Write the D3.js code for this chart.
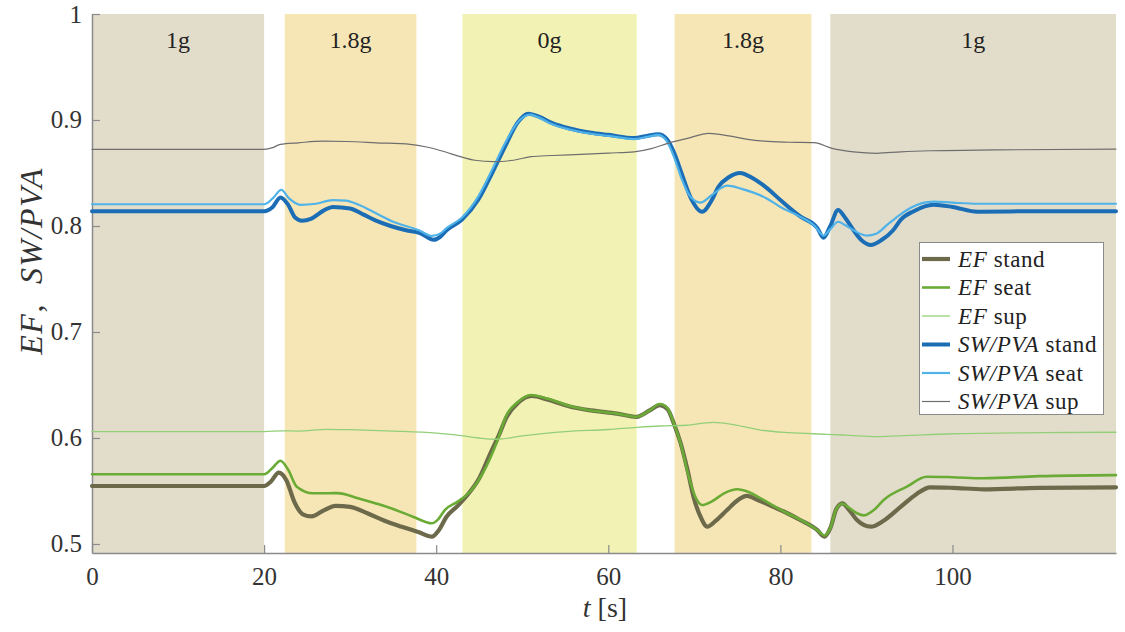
<!DOCTYPE html>
<html>
<head>
<meta charset="utf-8">
<script src="https://cdn.jsdelivr.net/npm/d3@7"></script>
<style>
  html, body { margin: 0; padding: 0; background: #ffffff; }
  svg text { font-family: "Liberation Serif", "Times New Roman", serif; }
</style>
</head>
<body>
<svg id="chart" width="1125" height="632"></svg>
<script>
// Gravity phases along the time axis
const phaseLabels = ["1g", "1.8g", "0g", "1.8g", "1g"];
const phaseStart  = [0, 22.4, 43.05, 67.7, 85.8];
const phaseEnd    = [20, 37.7, 63.3, 83.6, 119];
const phaseKind   = ["g1", "g18", "g0", "g18", "g1"];

const xTicks = [0, 20, 40, 60, 80, 100];
const yTicks = [0.5, 0.6, 0.7, 0.8, 0.9, 1];

// Series: [t (s), value]
const efStand = [[0,0.5547],[20,0.5547],[20.8,0.559],[21.7,0.5673],[22.6,0.560],[23.5,0.540],[24.5,0.528],[25.5,0.526],[27,0.532],[28.3,0.5359],[30,0.535],[32,0.529],[34,0.522],[36,0.5163],[38,0.511],[39.5,0.5069],[40.3,0.513],[41.2,0.5257],[42.5,0.536],[43.6,0.546],[45,0.562],[46.3,0.5856],[47.3,0.603],[48.2,0.620],[49.5,0.633],[51.1,0.6396],[53,0.636],[55.6,0.6295],[58,0.626],[61,0.623],[63.3,0.620],[64.8,0.626],[66,0.631],[66.9,0.627],[67.6,0.614],[68.4,0.5953],[69.2,0.570],[69.9,0.5446],[70.7,0.526],[71.5,0.5163],[72.5,0.522],[73.8,0.532],[75,0.541],[76.1,0.5453],[77.5,0.541],[79.2,0.535],[80.8,0.529],[82.3,0.5226],[84.3,0.513],[85.1,0.507],[85.8,0.515],[86.5,0.533],[87.2,0.5384],[88,0.532],[88.9,0.5226],[90.5,0.5163],[92,0.522],[94,0.5352],[95.8,0.547],[97.4,0.5535],[100,0.553],[103.6,0.5516],[110,0.553],[119,0.5535]];

const efSeat = [[0,0.5658],[20,0.5658],[21,0.572],[21.9,0.5786],[22.8,0.570],[23.8,0.554],[25.7,0.5478],[28.5,0.548],[31,0.543],[33.1,0.538],[35,0.533],[37.3,0.5257],[39.5,0.5195],[40.2,0.523],[41,0.532],[42.5,0.540],[44,0.550],[45.5,0.568],[47,0.595],[48.2,0.622],[49.5,0.634],[51,0.6405],[53,0.637],[55.6,0.630],[58,0.626],[61,0.623],[63.3,0.620],[64.8,0.626],[66,0.632],[66.9,0.628],[67.6,0.614],[68.4,0.595],[69.3,0.565],[70.2,0.543],[70.9,0.5368],[72,0.540],[73.5,0.548],[75,0.5516],[76.3,0.549],[77.3,0.545],[79.2,0.536],[80.8,0.529],[82.3,0.523],[84.3,0.513],[85.1,0.508],[85.8,0.515],[86.5,0.533],[87.2,0.538],[88,0.534],[88.9,0.529],[89.7,0.527],[91,0.533],[92,0.5415],[94.7,0.5541],[97,0.5635],[100,0.563],[103.6,0.562],[110,0.564],[119,0.565]];

const efSup = [[0,0.606],[20,0.606],[22,0.6068],[24,0.6065],[27.3,0.6082],[30,0.6078],[35,0.6065],[40,0.6045],[43.1,0.6019],[45,0.600],[47,0.5988],[50,0.602],[55,0.606],[60,0.608],[63.3,0.610],[66,0.6113],[69,0.612],[72.2,0.6148],[75,0.612],[77.7,0.6075],[81,0.605],[85.4,0.6035],[88,0.6025],[91.2,0.6013],[95,0.6025],[100,0.604],[110,0.605],[119,0.6054]];

const swStand = [[0,0.814],[20,0.814],[21,0.818],[21.9,0.827],[22.8,0.820],[23.6,0.808],[24.4,0.805],[25.5,0.807],[27,0.815],[28,0.818],[30,0.8165],[31.5,0.811],[33,0.805],[34.7,0.800],[36.5,0.796],[38.1,0.7934],[39.7,0.787],[40.5,0.790],[41.2,0.796],[43,0.806],[44.9,0.825],[46.5,0.850],[48,0.875],[49.5,0.898],[50.7,0.906],[52,0.903],[53.5,0.897],[55.5,0.892],[58,0.888],[60,0.886],[63,0.883],[64.5,0.885],[65.8,0.8865],[66.8,0.882],[67.6,0.870],[68.5,0.850],[69.5,0.828],[70.9,0.8135],[72,0.824],[72.8,0.837],[74,0.846],[75.3,0.850],[76.8,0.845],[78.4,0.836],[80,0.8245],[82.3,0.809],[84.3,0.798],[85,0.789],[85.8,0.800],[86.7,0.815],[87.5,0.808],[88.5,0.796],[89.5,0.786],[90.5,0.782],[91.8,0.787],[93.1,0.796],[94,0.806],[95.5,0.814],[97.8,0.820],[100,0.818],[102.9,0.8135],[110,0.814],[119,0.814]];

const swSeat = [[0,0.8205],[20,0.8205],[21,0.826],[22,0.834],[22.9,0.826],[24.2,0.820],[26,0.821],[28,0.8245],[29.5,0.824],[31,0.820],[33,0.812],[35,0.804],[38,0.796],[39.5,0.7906],[40.5,0.793],[41.2,0.798],[43,0.808],[44.9,0.828],[46.5,0.853],[48,0.878],[49.5,0.898],[50.9,0.905],[52,0.902],[53.5,0.896],[55.5,0.891],[58,0.887],[60,0.885],[63,0.882],[64.5,0.884],[65.8,0.886],[66.8,0.880],[67.6,0.866],[68.5,0.845],[69.5,0.828],[70.7,0.822],[72,0.829],[73.8,0.838],[75.5,0.835],[78.4,0.826],[80,0.818],[82,0.810],[84,0.800],[85,0.791],[85.8,0.797],[86.7,0.804],[87.5,0.801],[88.5,0.796],[90,0.791],[91.2,0.793],[92.4,0.801],[93.8,0.810],[95.1,0.817],[97.8,0.823],[100,0.822],[103,0.821],[110,0.821],[119,0.821]];

const swSup = [[0,0.8723],[20,0.8723],[21,0.874],[21.9,0.877],[24,0.8785],[26.8,0.880],[29.6,0.8797],[33,0.8785],[37,0.877],[38.9,0.8745],[41,0.870],[42.8,0.8654],[44.5,0.862],[46.7,0.8607],[49,0.862],[51,0.8654],[53.5,0.8665],[56.8,0.8676],[60,0.8688],[63,0.870],[65,0.873],[66.9,0.878],[69.2,0.8827],[71.7,0.8874],[74,0.885],[76,0.882],[78.1,0.880],[81,0.879],[83.9,0.8786],[86,0.8733],[88.5,0.870],[91.2,0.8686],[94,0.870],[97.4,0.871],[105,0.8718],[119,0.8726]];

const seriesNames = ["stand", "seat", "sup", "stand", "seat", "sup"];
const seriesPrefix = ["EF", "EF", "EF", "SW/PVA", "SW/PVA", "SW/PVA"];
const seriesData = [efStand, efSeat, efSup, swStand, swSeat, swSup];
const seriesColor = ["#6c6a4b", "#6aab35", "#93cf78", "#1b6db5", "#4fb2e8", "#6e6e6e"];
const seriesWidth = [4.2, 2.6, 1.3, 4.0, 2.2, 1.2];

const phaseFill = { g1: "#e2ddcb", g18: "#f6e6b6", g0: "#f3f2b5" };

const margin = { left: 92, right: 9, top: 14, bottom: 79 };
const W = 1125, H = 632;
const svg = d3.select("#chart");

const x = d3.scaleLinear().domain([0, 119]).range([margin.left, W - margin.right]);
const y = d3.scaleLinear().domain([0.4915, 1]).range([H - margin.bottom, margin.top]);

// Phase bands
const bands = svg.append("g");
phaseLabels.forEach((lab, i) => {
  bands.append("rect")
    .attr("x", x(phaseStart[i]))
    .attr("y", y(1))
    .attr("width", x(phaseEnd[i]) - x(phaseStart[i]))
    .attr("height", y(0.4915) - y(1))
    .attr("fill", phaseFill[phaseKind[i]]);
  bands.append("text")
    .attr("x", (x(phaseStart[i]) + x(phaseEnd[i])) / 2)
    .attr("y", 48)
    .attr("text-anchor", "middle")
    .attr("font-size", 24)
    .attr("fill", "#222")
    .text(lab);
});

// Axes
const axisColor = "#8a8a8a";
const yAxis = svg.append("g")
  .attr("transform", `translate(${margin.left},0)`)
  .call(d3.axisLeft(y).tickValues(yTicks).tickSizeInner(-8).tickSizeOuter(0).tickPadding(10)
    .tickFormat(d => d === 1 ? "1" : d3.format(".1f")(d)));
const xAxis = svg.append("g")
  .attr("transform", `translate(0,${H - margin.bottom})`)
  .call(d3.axisBottom(x).tickValues(xTicks).tickSizeInner(-8).tickSizeOuter(0).tickPadding(14));

[yAxis, xAxis].forEach(a => {
  a.select(".domain").attr("stroke", axisColor).attr("stroke-width", 1.5);
  a.selectAll(".tick line").attr("stroke", axisColor).attr("stroke-width", 1.2);
  a.selectAll(".tick text")
    .attr("font-family", "'Liberation Serif', serif")
    .attr("font-size", 25)
    .attr("fill", "#333");
});

// Curves
const line = d3.line()
  .x(d => x(d[0]))
  .y(d => y(d[1]))
  .curve(d3.curveMonotoneX);

const curves = svg.append("g");
seriesData.forEach((data, i) => {
  curves.append("path")
    .datum(data)
    .attr("d", line)
    .attr("fill", "none")
    .attr("stroke", seriesColor[i])
    .attr("stroke-width", seriesWidth[i])
    .attr("stroke-linejoin", "round")
    .attr("stroke-linecap", "round");
});

// Axis titles
const yTitle = svg.append("text")
  .attr("transform", "translate(42,261) rotate(-90)")
  .attr("text-anchor", "middle")
  .attr("font-size", 32)
  .attr("letter-spacing", 1.5)
  .attr("fill", "#333");
yTitle.append("tspan").attr("font-style", "italic").text("EF");
yTitle.append("tspan").text(",\u00a0\u00a0");
yTitle.append("tspan").attr("font-style", "italic").text("SW/PVA");

const xTitle = svg.append("text")
  .attr("x", 605)
  .attr("y", 617)
  .attr("text-anchor", "middle")
  .attr("font-size", 28)
  .attr("fill", "#333");
xTitle.append("tspan").attr("font-style", "italic").text("t");
xTitle.append("tspan").text(" [s]");

// Legend
const legend = svg.append("g");
legend.append("rect")
  .attr("x", 919.5).attr("y", 242.5)
  .attr("width", 184).attr("height", 172)
  .attr("fill", "#ffffff")
  .attr("stroke", "#8a8a8a")
  .attr("stroke-width", 1);
seriesNames.forEach((name, i) => {
  const yy = 259 + i * 28.5;
  legend.append("line")
    .attr("x1", 922).attr("x2", 950)
    .attr("y1", yy).attr("y2", yy)
    .attr("stroke", seriesColor[i])
    .attr("stroke-width", seriesWidth[i]);
  const t = legend.append("text")
    .attr("x", 958).attr("y", yy + 7.5)
    .attr("font-size", 23)
    .attr("letter-spacing", 0.6)
    .attr("fill", "#222");
  t.append("tspan").attr("font-style", "italic").text(seriesPrefix[i]);
  t.append("tspan").text(" " + name);
});
</script>
</body>
</html>
